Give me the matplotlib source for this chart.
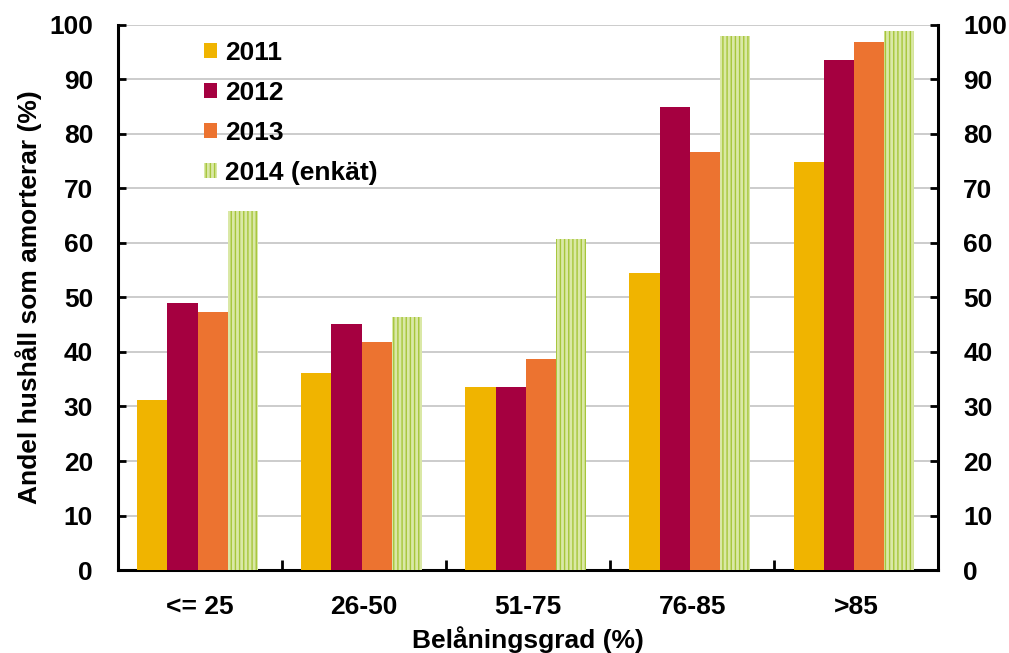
import numpy as np
import matplotlib.pyplot as plt

plt.rcParams['font.family'] = ['Liberation Sans', 'DejaVu Sans']
plt.rcParams['font.weight'] = 'bold'
plt.rcParams['hatch.linewidth'] = 1.0

categories = ["<= 25", "26-50", "51-75", "76-85", ">85"]
years = ["2011", "2012", "2013", "2014 (enkät)"]
v2011 = [31.2, 36.1, 33.6, 54.5, 74.8]
v2012 = [49.0, 45.1, 33.6, 84.9, 93.5]
v2013 = [47.3, 41.9, 38.7, 76.7, 96.8]
v2014 = [65.8, 46.4, 60.8, 97.9, 98.9]

colors = ["#F0B400", "#A50040", "#EC7330", "#DAE8A6"]
fs = 19

fig = plt.figure(figsize=(10.09, 6.53), dpi=100)
ax = fig.add_axes([0.117, 0.127, 0.813, 0.835])

x = np.arange(len(categories))
w = 0.184
series = [v2011, v2012, v2013, v2014]
for i, vals in enumerate(series):
    pos = x + (i - 1.5) * w - 0.015
    if i == 3:
        ax.bar(pos, vals, w, color=colors[i], edgecolor="#A6C63A",
               hatch="||||", linewidth=0, label=years[i], zorder=3)
    else:
        ax.bar(pos, vals, w, color=colors[i], label=years[i], zorder=3)

ax.set_xlim(-0.5, len(categories) - 0.5)
ax.set_ylim(0, 100)
ax.set_yticks(range(0, 101, 10))
ax.yaxis.grid(True, color="#C4C4C4", linewidth=1.2, zorder=0)
ax.set_axisbelow(True)

ax.set_xticks(x)
ax.set_xticklabels(categories, fontsize=fs, fontweight="bold")
ax.tick_params(axis="x", length=0, pad=18)
# boundary ticks between the categories
ax.set_xticks(np.arange(-0.5, len(categories)), minor=True)
ax.tick_params(axis="x", which="minor", direction="in", length=7, width=2)

ax.tick_params(axis="y", direction="in", length=6, width=2, labelsize=fs,
               left=True, right=True, labelleft=True, labelright=True, pad=18)
for lab in ax.get_yticklabels():
    lab.set_fontweight("bold")

for side in ["left", "right", "bottom"]:
    ax.spines[side].set_linewidth(2.2)
    ax.spines[side].set_color("black")
ax.spines["top"].set_visible(False)

ax.set_ylabel("Andel hushåll som amorterar (%)", fontsize=fs,
              fontweight="bold", labelpad=5)
ax.set_xlabel("Belåningsgrad (%)", fontsize=fs, fontweight="bold", labelpad=5)

leg = ax.legend(loc="upper left", bbox_to_anchor=(0.105, 0.97), frameon=False,
                fontsize=fs, handlelength=0.5, handleheight=0.5,
                handletextpad=0.3, labelspacing=0.6, borderpad=0,
                borderaxespad=0)
for t in leg.get_texts():
    t.set_fontweight("bold")

fig.savefig("out.png", dpi=100)
